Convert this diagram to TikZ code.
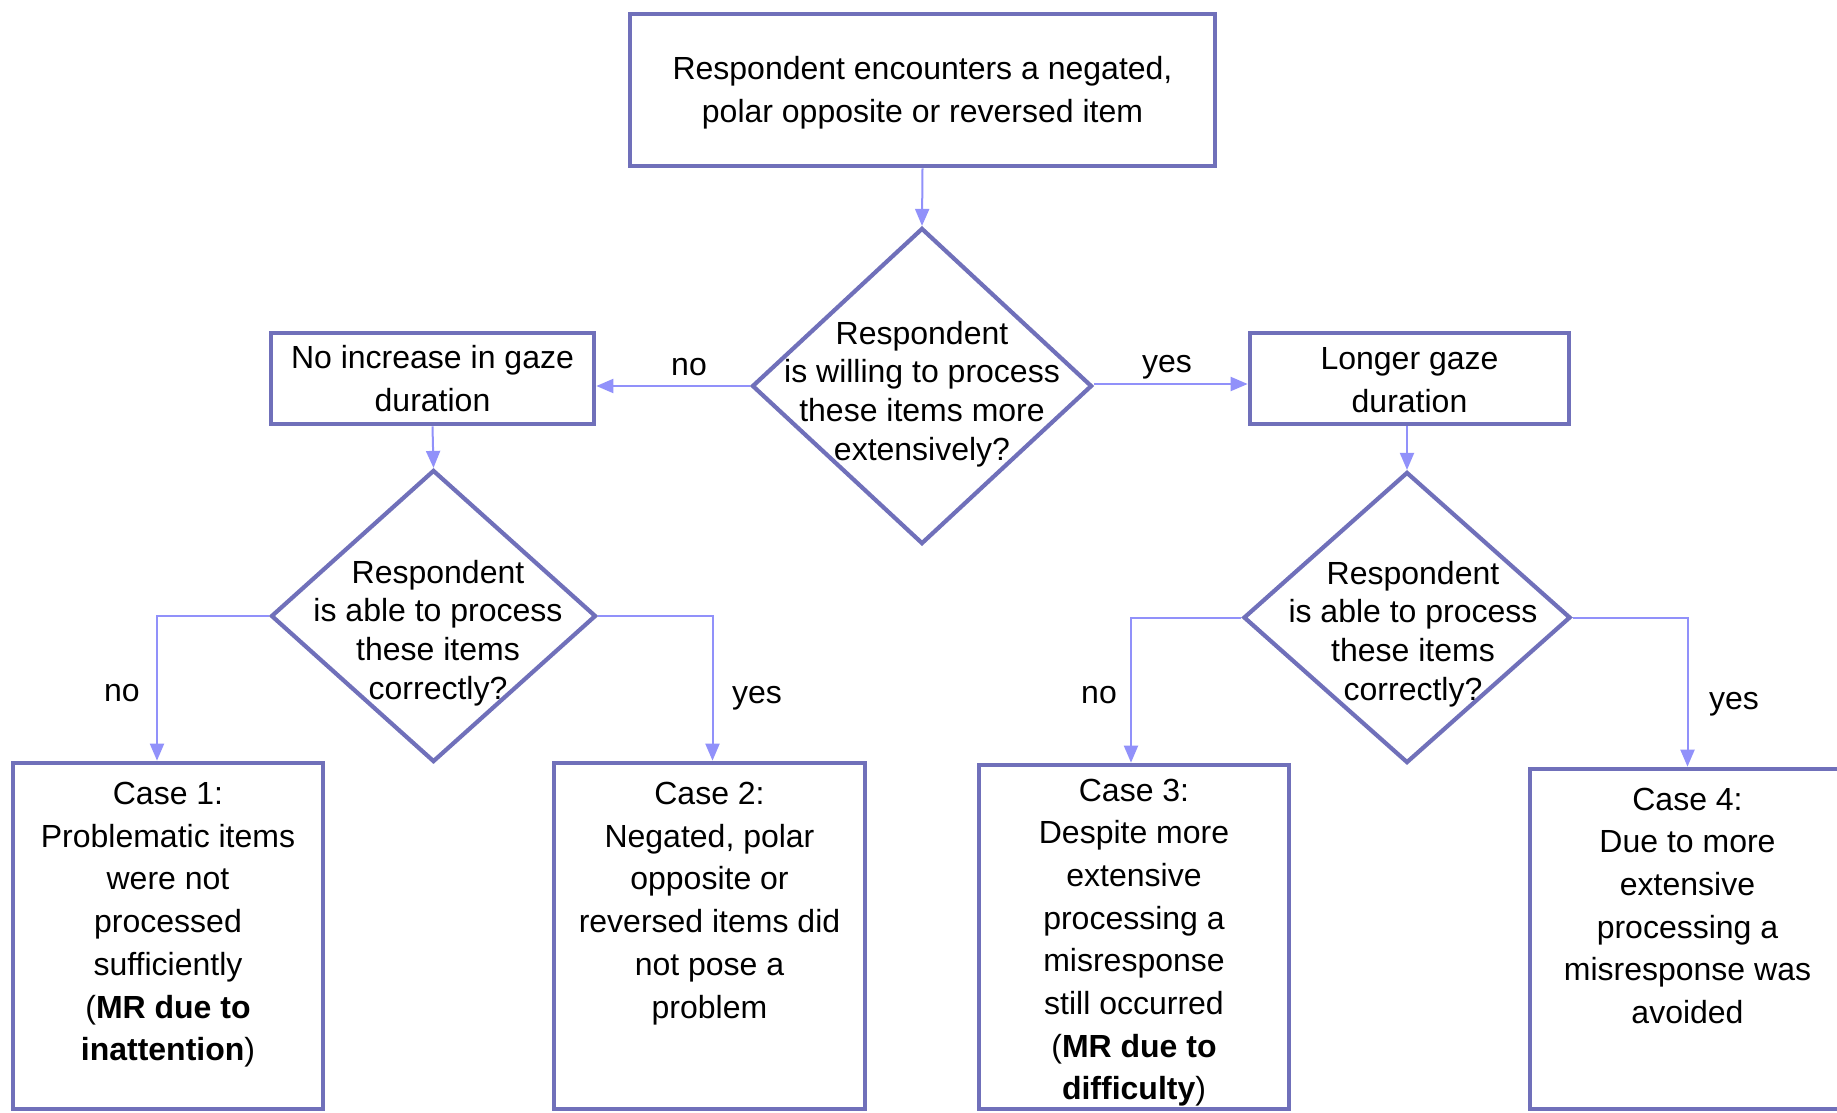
\documentclass[tikz,border=0pt]{standalone}
\usepackage{fontspec}
\setmainfont{Liberation Sans}
\usetikzlibrary{shapes.geometric,arrows.meta}
\definecolor{boxcol}{RGB}{112,112,186}
\definecolor{arrcol}{RGB}{145,145,250}
\begin{document}
\begin{tikzpicture}[x=1pt,y=-1pt,
  every node/.style={font=\fontsize{32}{42.7}\selectfont, inner sep=0pt},
  box/.style={draw=boxcol, line width=4.7pt, rectangle, align=center},
  dia/.style={draw=boxcol, line width=4.2pt, diamond, inner sep=0pt},
  arr/.style={draw=arrcol, line width=2pt, -{Triangle[length=17pt,width=14pt]}},
  dtext/.style={align=center, font=\fontsize{32}{38.7}\selectfont},
  ctext/.style={align=center, anchor=north}]
\useasboundingbox[fill=white] (0,0) rectangle (1837,1113);

% top box
\node[box, minimum width=585pt, minimum height=152pt] (box0) at (922.5,90) {};
\node[align=center] (box0t) at (922.5,92.5) {Respondent encounters a negated,\\polar opposite or reversed item};

% main diamond
\node[dia, minimum width=340pt, minimum height=316pt] (d1) at (922,386) {};
\node[dtext] (d1t) at (922,394) {Respondent\\is willing to process\\these items more\\extensively?};

% gaze boxes
\node[box, minimum width=323pt, minimum height=91pt] (g1) at (432.5,378.5) {No increase in gaze\\duration};
\node[box, minimum width=319pt, minimum height=91pt] (g2) at (1409.5,378.5) {};
\node[align=center] (g2t) at (1409.5,380) {Longer gaze\\duration};

% lower diamonds
\node[dia, minimum width=325pt, minimum height=292pt] (d2) at (433.5,616) {};
\node[dtext] (d2t) at (438,633) {Respondent\\is able to process\\these items\\correctly?};
\node[dia, minimum width=327pt, minimum height=291pt] (d3) at (1407,617.5) {};
\node[dtext] (d3t) at (1413,634) {Respondent\\is able to process\\these items\\correctly?};

% case boxes
\node[box, minimum width=310pt, minimum height=346pt] (c1) at (168,936) {};
\node[box, minimum width=311pt, minimum height=346pt] (c2) at (709.5,936) {};
\node[box, minimum width=310pt, minimum height=344pt] (c3) at (1134,937) {};
\node[box, minimum width=315pt, minimum height=340pt] (c4) at (1687.5,939) {};

\node[ctext] (c1t) at ([yshift=-21.3pt]c1.north) {Case 1:\\Problematic items\\were not\\processed\\sufficiently\\(\textbf{MR due to}\\\textbf{inattention})};
\node[ctext] (c2t) at ([yshift=-21.3pt]c2.north) {Case 2:\\Negated, polar\\opposite or\\reversed items did\\not pose a\\problem};
\node[ctext] (c3t) at ([yshift=-15.8pt]c3.north) {Case 3:\\Despite more\\extensive\\processing a\\misresponse\\still occurred\\(\textbf{MR due to}\\\textbf{difficulty})};
\node[ctext] (c4t) at ([yshift=-20.8pt]c4.north) {Case 4:\\Due to more\\extensive\\processing a\\misresponse was\\avoided};

% connectors
\draw[arr] (box0.south) -- (d1.north);
\draw[arr] (d1.west) -- (d1.west -| g1.east);
\draw[arr] ([yshift=2pt]d1.east) -- ([yshift=2pt]d1.east -| g2.west);
\draw[arr] (g1.south) -- (d2.north);
\draw[arr] (g2.south -| d3.north) -- (d3.north);
\draw[arr] (d2.west) -| ([xshift=-11pt]c1.north);
\draw[arr] (d2.east) -| ([xshift=3pt]c2.north);
\draw[arr] (d3.west) -| ([xshift=-3pt]c3.north);
\draw[arr] (d3.east) -| (c4.north);

% labels
\node (l1) at (689,367.5) {no};
\node (l2) at (1167,367) {yes};
\node (l3) at (122,693.5) {no};
\node (l4) at (757,698) {yes};
\node (l5) at (1099,695.5) {no};
\node (l6) at (1734,704) {yes};
\end{tikzpicture}
\end{document}
